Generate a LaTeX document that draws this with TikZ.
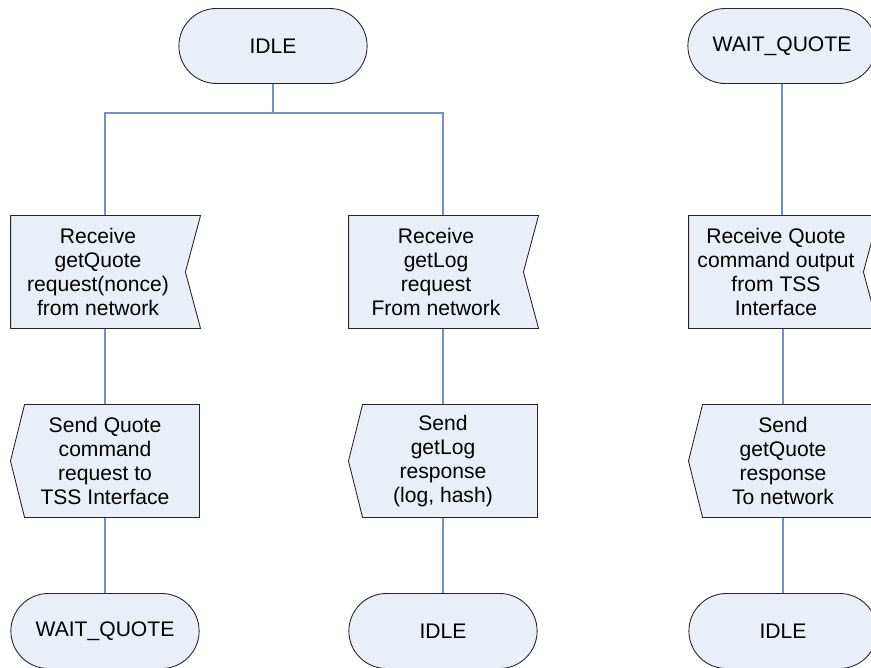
\documentclass[tikz,border=0pt]{standalone}
\usepackage{fontspec}
\setmainfont{Liberation Sans}
\usepackage{tikz}
\usetikzlibrary{shapes.misc, shapes.symbols, positioning}
\definecolor{boxfill}{RGB}{233,238,247}
\definecolor{wire}{RGB}{110,145,200}

\begin{document}
\begin{tikzpicture}[x=0.02cm, y=-0.02cm,
    every node/.style = {font=\fontsize{12}{13.6}\selectfont, align=center, text=black},
    state/.style = {rounded rectangle, draw=black!85, line width=0.5pt, fill=boxfill, minimum width=4.0cm, minimum height=1.5cm},
    recv/.style = {signal, signal to=nowhere, signal from=east, signal pointer angle=150, draw=black!85, line width=0.5pt, fill=boxfill, minimum width=3.8cm, minimum height=2.26cm, inner sep=1pt},
    send/.style = {signal, signal to=west, signal from=nowhere, signal pointer angle=152, draw=black!85, line width=0.5pt, fill=boxfill, minimum width=3.78cm, minimum height=2.26cm, inner sep=1pt},
    wire/.style = {draw=wire, line width=0.8pt}]
    \clip (0,0) rectangle (871,668);
    \useasboundingbox (0,0) rectangle (871,668);

    % states on top
    \node (idle0) [state] at (273,46) {IDLE};
    \node (wait0) [state] at (782,46) {WAIT\_QUOTE};

    % incoming signals
    \node (getq) [recv] at (98,272) {Receive\\getQuote\\request(nonce)\\from network};
    \node (getl) [recv] at (436,272) {Receive\\getLog\\request\\From network};
    \node (qout) [recv] at (776,272) {Receive Quote\\command output\\from TSS\\Interface};

    % outgoing signals (text sits on the column line)
    \node (sendq) [send] at (112,461) {};
    \node (sendqt) at (105,461) {Send Quote\\command\\request to\\TSS Interface};
    \node (sendl) [send] at (450,461) {};
    \node (sendlt) at (443,461) {Send\\getLog\\response\\(log, hash)};
    \node (sendr) [send] at (790,461) {};
    \node (sendrt) at (783,461) {Send\\getQuote\\response\\To network};

    % next states
    \node (wait1) [state] at (105,631) {WAIT\_QUOTE};
    \node (idle1) [state] at (443,631) {IDLE};
    \node (idle2) [state] at (783,631) {IDLE};

    \coordinate (fork) at (273,113);
    \draw [wire] (idle0.south) -- (fork);
    \draw [wire] (fork) -| (wait1.north |- getq.north);
    \draw [wire] (fork) -| (idle1.north |- getl.north);
    \draw [wire] (wait0.south) -- (wait0.south |- qout.north);

    \draw [wire] (wait1.north |- getq.south) -- (wait1.north |- sendq.north);
    \draw [wire] (idle1.north |- getl.south) -- (idle1.north |- sendl.north);
    \draw [wire] (idle2.north |- qout.south) -- (idle2.north |- sendr.north);

    \draw [wire] (sendq.south -| wait1.north) -- (wait1.north);
    \draw [wire] (sendl.south -| idle1.north) -- (idle1.north);
    \draw [wire] (sendr.south -| idle2.north) -- (idle2.north);
\end{tikzpicture}
\end{document}
